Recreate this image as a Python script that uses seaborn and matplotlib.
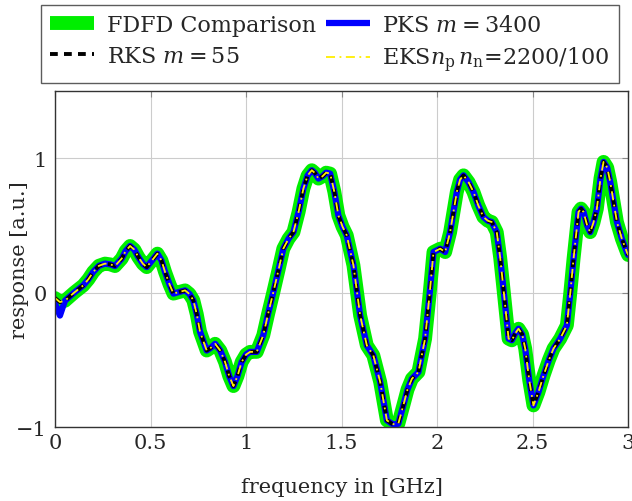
import numpy as np
import pandas as pd
import seaborn as sns
import matplotlib.pyplot as plt

# frequency in GHz and response
freq = [0.0, 0.026, 0.052, 0.10, 0.148, 0.175, 0.20, 0.23, 0.262, 0.29, 0.314, 0.349,
        0.37, 0.393, 0.415, 0.436, 0.46, 0.48, 0.508, 0.536, 0.557, 0.576, 0.60, 0.62,
        0.65, 0.681, 0.704, 0.724, 0.742, 0.759, 0.794, 0.815, 0.838, 0.865, 0.89,
        0.912, 0.934, 0.955, 0.977, 1.0, 1.021, 1.056, 1.09, 1.115, 1.143, 1.17, 1.195,
        1.222, 1.248, 1.275, 1.30, 1.322, 1.344, 1.36, 1.379, 1.40, 1.419, 1.44, 1.462,
        1.483, 1.505, 1.527, 1.562, 1.597, 1.632, 1.666, 1.702, 1.737, 1.763, 1.78,
        1.797, 1.823, 1.845, 1.868, 1.902, 1.937, 1.96, 1.981, 2.016, 2.042, 2.068,
        2.103, 2.12, 2.138, 2.165, 2.19, 2.215, 2.242, 2.265, 2.286, 2.312, 2.33, 2.347,
        2.374, 2.391, 2.41, 2.426, 2.445, 2.461, 2.482, 2.504, 2.53, 2.557, 2.585, 2.609,
        2.644, 2.679, 2.697, 2.714, 2.74, 2.753, 2.766, 2.785, 2.801, 2.818, 2.836, 2.855,
        2.871, 2.89, 2.906, 2.941, 2.967, 2.993, 3.0]
response = [-0.04, -0.07, -0.06, 0.0, 0.054, 0.10, 0.154, 0.20, 0.216, 0.21, 0.198, 0.253,
            0.31, 0.347, 0.32, 0.265, 0.215, 0.19, 0.24, 0.29, 0.24, 0.154, 0.06, -0.007,
            0.005, 0.017, -0.01, -0.057, -0.16, -0.29, -0.43, -0.41, -0.38, -0.43, -0.515,
            -0.62, -0.694, -0.62, -0.515, -0.46, -0.44, -0.44, -0.317, -0.16, 0.005, 0.17,
            0.327, 0.40, 0.45, 0.60, 0.773, 0.87, 0.91, 0.89, 0.848, 0.865, 0.892, 0.885,
            0.75, 0.575, 0.49, 0.426, 0.203, -0.169, -0.392, -0.466, -0.664, -0.949, -0.974,
            -0.98, -0.974, -0.838, -0.72, -0.64, -0.59, -0.342, -0.02, 0.302, 0.327, 0.302,
            0.45, 0.749, 0.84, 0.872, 0.82, 0.749, 0.65, 0.563, 0.535, 0.525, 0.45, 0.26,
            0.03, -0.342, -0.354, -0.30, -0.268, -0.31, -0.416, -0.65, -0.838, -0.74, -0.615,
            -0.50, -0.416, -0.342, -0.243, 0.0, 0.253, 0.6, 0.625, 0.6, 0.50, 0.45, 0.52,
            0.625, 0.85, 0.972, 0.93, 0.823, 0.525, 0.40, 0.302, 0.28]
# PKS shows a small dip right at the start
pks_start = [-0.08, -0.17]

pks_response = pks_start + response[2:]

df = pd.DataFrame({'freq': freq, 'fdfd': response, 'pks': pks_response,
                   'rks': response, 'eks': response})

sns.set_style("white")
plt.rcParams['font.family'] = ['DejaVu Serif']
plt.rcParams['mathtext.fontset'] = 'dejavuserif'
plt.rcParams['font.size'] = 15

fig = plt.figure(figsize=(6.32, 5.02), dpi=100)
ax = fig.add_axes([0.087, 0.147, 0.907, 0.67])

sns.lineplot(data=df, x='freq', y='fdfd', ax=ax, color='#00ee00', linewidth=10,
             label='FDFD Comparison', solid_joinstyle='round', solid_capstyle='round')
sns.lineplot(data=df, x='freq', y='pks', ax=ax, color='#0000ff', linewidth=4.5,
             label=r'PKS $m = 3400$', solid_joinstyle='round')
sns.lineplot(data=df, x='freq', y='rks', ax=ax, color='black', linewidth=2.8,
             linestyle=(0, (2.0, 1.6)), label=r'RKS $m = 55$')
sns.lineplot(data=df, x='freq', y='eks', ax=ax, color='#ffee00', linewidth=1.3,
             linestyle=(0, (5, 2.5, 1, 2.5)),
             label=r'EKS$n_\mathrm{p}\,n_\mathrm{n}$=2200/100')

ax.set_xlim(0, 3)
ax.set_ylim(-1, 1.5)
ax.set_xticks([0, 0.5, 1, 1.5, 2, 2.5, 3])
ax.set_xticklabels(['0', '0.5', '1', '1.5', '2', '2.5', '3'])
ax.set_yticks([-1, 0, 1])
ax.set_yticklabels(['\u22121', '0', '1'])
ax.grid(True, color='#cccccc', linewidth=0.8)
ax.tick_params(direction='in', length=4, color='#888888', labelsize=15,
               top=True, right=True)
ax.tick_params(axis='y', pad=6)
ax.tick_params(axis='x', pad=4)
for s in ax.spines.values():
    s.set_color('#333333')
    s.set_linewidth(1.0)

ax.set_xlabel('frequency in [GHz]', fontsize=15, labelpad=18)
ax.set_ylabel('response [a.u.]', fontsize=15)
ax.yaxis.set_label_coords(-0.046, 0.5)

handles, labels = ax.get_legend_handles_labels()
ax.legend_.remove()
order = [0, 2, 1, 3]
leg = fig.legend([handles[i] for i in order], [labels[i] for i in order],
                 ncol=2, loc='upper center', bbox_to_anchor=(0.522, 0.988),
                 fontsize=16, frameon=True, fancybox=False,
                 edgecolor='#333333', handlelength=2.0, handletextpad=0.55,
                 columnspacing=0.45, borderpad=0.4, labelspacing=0.4,
                 borderaxespad=0)
leg.get_frame().set_linewidth(1.0)
for h in leg.get_lines():
    h.set_solid_capstyle('butt')

fig.savefig('out.png', dpi=100)
